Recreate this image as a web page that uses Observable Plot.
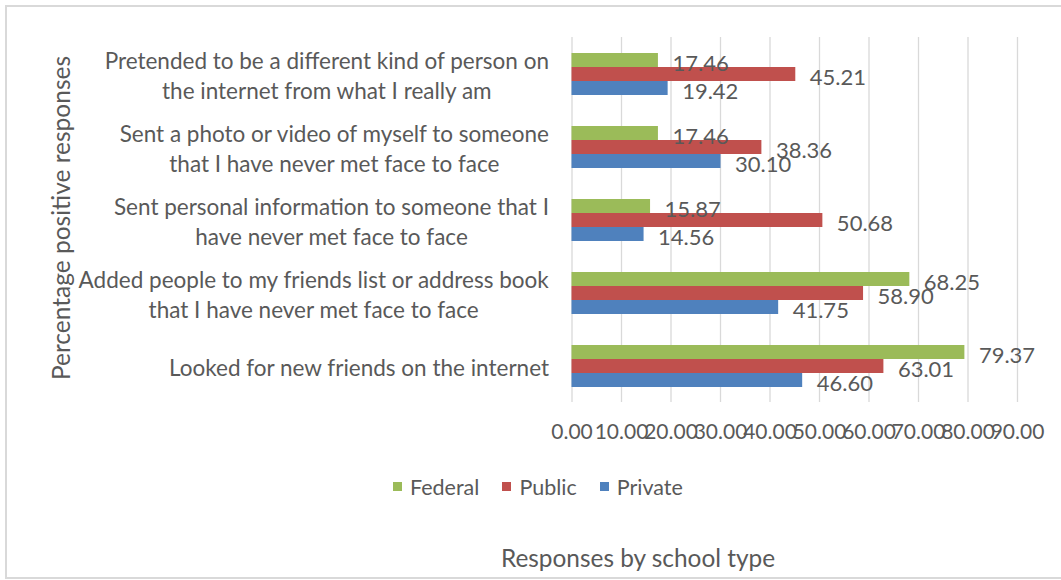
<!DOCTYPE html>
<html><head><meta charset="utf-8">
<script src="https://cdn.jsdelivr.net/npm/d3@7"></script>
<script src="https://cdn.jsdelivr.net/npm/@observablehq/plot@0.6"></script>
<style>
body{margin:0;background:#fff;font-family:Lato,sans-serif;overflow:hidden;}
#chart{position:relative;width:1061px;height:580px;overflow:hidden;background:#fff;}
#frame{position:absolute;left:5px;top:5px;width:1056px;height:574px;border-left:2px solid #d9d9d9;border-top:2px solid #d9d9d9;border-bottom:2px solid #d9d9d9;box-sizing:border-box;}
#plot{position:absolute;left:0;top:0;}
#ytitle{position:absolute;left:60px;top:218px;transform:translate(-50%,-50%) rotate(-90deg);white-space:nowrap;font-size:24.5px;color:#595959;}
#legend{position:absolute;left:393px;top:470px;}
#legend > div{margin:0 !important;}
#legend svg{margin-right:8px !important;}
#legend span{margin-right:23px !important;font-size:21.5px;color:#595959;font-family:Lato,sans-serif;}
#xtitle{position:absolute;left:638px;top:557px;transform:translate(-50%,-50%);font-size:24.4px;color:#595959;white-space:nowrap;}
</style>
</head><body>
<div id="chart">
  <div id="frame"></div>
  <div id="plot"></div>
  <div id="ytitle">Percentage positive responses</div>
  <div id="legend"></div>
  <div id="xtitle">Responses by school type</div>
</div>
<script>
const categories = [
  "Pretended to be a different kind of person on\nthe internet from what I really am",
  "Sent a photo or video of myself to someone\nthat I have never met face to face",
  "Sent personal information to someone that I\nhave never met face to face",
  "Added people to my friends list or address book\nthat I have never met face to face",
  "Looked for new friends on the internet"
];
const series = ["Federal", "Public", "Private"];
const federal = [17.46, 17.46, 15.87, 68.25, 79.37];
const publicVals = [45.21, 38.36, 50.68, 58.90, 63.01];
const privateVals = [19.42, 30.10, 14.56, 41.75, 46.60];
const colors = ["#9BBB59", "#C0504D", "#4F81BD"];
const xTicks = [0, 10, 20, 30, 40, 50, 60, 70, 80, 90];

const seriesValues = [federal, publicVals, privateVals];
const data = categories.flatMap((c, i) => series.map((s, j) => ({category: c, series: s, value: seriesValues[j][i]})));

const plot = Plot.plot({
  width: 1061, height: 455,
  marginLeft: 571.5, marginRight: 44, marginTop: 35, marginBottom: 52,
  style: {fontFamily: "Lato, sans-serif", color: "#595959", background: "transparent", overflow: "visible"},
  x: {domain: [0, 90]},
  y: {domain: series, paddingInner: 0, paddingOuter: 0.95, axis: null},
  fy: {domain: categories, padding: 0},
  color: {domain: series, range: colors},
  marks: [
    Plot.gridX(xTicks, {stroke: "#d9d9d9", strokeOpacity: 1, strokeWidth: 1.3}),
    Plot.barX(data, {x: "value", y: "series", fy: "category", fill: "series"}),
    Plot.text(data, {x: "value", y: "series", fy: "category", text: d => d.value.toFixed(2), textAnchor: "start", dx: 14, dy: 3, fontSize: 22, fill: "#595959"}),
    Plot.axisX(xTicks, {tickSize: 0, tickPadding: 22, tickFormat: d => d.toFixed(2), fontSize: 21, fill: "#595959", label: null}),
    Plot.axisFy({anchor: "left", tickSize: 0, tickPadding: 23, fontSize: 22.5, lineHeight: 1.33, textAnchor: "middle", fill: "#595959", label: null})
  ]
});
document.getElementById("plot").appendChild(plot);

// right-align each label block while centring its lines within the block
plot.querySelectorAll('g[aria-label="fy-axis tick label"] text').forEach(t => {
  const w = t.getBBox().width;
  const tr = t.getAttribute("transform") || "";
  t.setAttribute("transform", tr + ` translate(${-w / 2},0)`);
});

const leg = Plot.legend({color: {domain: series, range: colors}, swatchSize: 9});
document.getElementById("legend").appendChild(leg);
</script>
</body></html>
